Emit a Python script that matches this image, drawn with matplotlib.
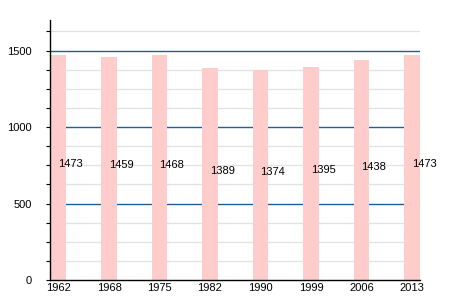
import matplotlib
matplotlib.use("Agg")
import matplotlib.pyplot as plt
import numpy as np

years = ["1962", "1968", "1975", "1982", "1990", "1999", "2006", "2013"]
population = [1473, 1459, 1468, 1389, 1374, 1395, 1438, 1473]
major_ticks = [0, 500, 1000, 1500]

plt.rcParams['font.family'] = ['Liberation Sans', 'DejaVu Sans']

fig = plt.figure(figsize=(4.5, 3), dpi=100)
ax = fig.add_axes([50/450, 20/300, 370/450, 260/300])

x = np.arange(len(years))
ymax = 1700
# light gray minor grid
for v in np.arange(125, ymax, 125):
    if v % 500 != 0:
        ax.axhline(v, color='#e2e2e2', lw=0.9, zorder=1)
for v in major_ticks[1:]:
    ax.axhline(v, color='#1f5f99', lw=1.0, zorder=1.5)

ax.bar(x, population, width=0.31, color='#ffcccc', zorder=2)
for xi, v in zip(x, population):
    ax.text(xi, v / 2, str(v), ha='left', va='baseline', fontsize=8, color='black', zorder=3)

ax.set_xlim(-0.17, 7.16)
ax.set_ylim(0, ymax)
ax.set_xticks(x)
ax.set_xticklabels(years, fontsize=8)
ax.set_yticks(major_ticks)
ax.set_yticklabels([str(t) for t in major_ticks], fontsize=8)
ax.set_yticks(np.arange(0, ymax, 125), minor=True)
ax.tick_params(axis='x', length=0, pad=2)
ax.tick_params(axis='y', which='both', length=3, width=0.8, pad=10)
for s in ['top', 'right']:
    ax.spines[s].set_visible(False)
ax.spines['left'].set_linewidth(1.0)
ax.spines['bottom'].set_linewidth(1.0)

fig.savefig('out.png', dpi=100)
